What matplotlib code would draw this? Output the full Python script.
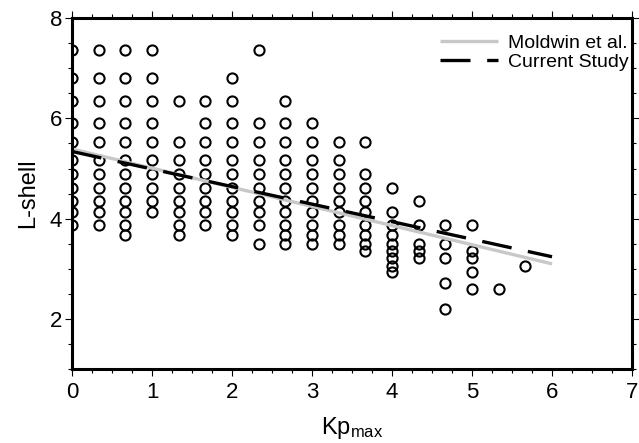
import numpy as np
import matplotlib
matplotlib.use('Agg')
import matplotlib.pyplot as plt
from matplotlib.ticker import MultipleLocator

plt.rcParams['font.family'] = ['Liberation Sans', 'DejaVu Sans']
plt.rcParams['mathtext.default'] = 'regular'

# Kp_max bins (thirds) and the plasmapause L-shells seen in each bin
kp_bins = [0, 1/3, 2/3, 1, 4/3, 5/3, 2, 7/3, 8/3, 3, 10/3, 11/3, 4, 13/3, 14/3, 5, 16/3, 17/3]
lshell_by_bin = [
    [7.36, 6.81, 6.34, 5.91, 5.53, 5.18, 4.89, 4.61, 4.35, 4.13, 3.87],
    [7.36, 6.81, 6.34, 5.91, 5.53, 5.18, 4.89, 4.61, 4.35, 4.13, 3.87],
    [7.36, 6.81, 6.34, 5.91, 5.53, 5.18, 4.89, 4.61, 4.35, 4.13, 3.87, 3.67],
    [7.36, 6.81, 6.34, 5.91, 5.53, 5.18, 4.89, 4.61, 4.35, 4.13],
    [6.34, 5.53, 5.18, 4.89, 4.61, 4.35, 4.13, 3.87, 3.67],
    [6.34, 5.91, 5.53, 5.18, 4.89, 4.61, 4.35, 4.13, 3.87],
    [6.81, 6.34, 5.91, 5.53, 5.18, 4.89, 4.61, 4.35, 4.13, 3.87, 3.67],
    [7.36, 5.91, 5.53, 5.18, 4.89, 4.61, 4.35, 4.13, 3.87, 3.50],
    [6.34, 5.91, 5.53, 5.18, 4.89, 4.61, 4.35, 4.13, 3.87, 3.67, 3.50],
    [5.91, 5.53, 5.18, 4.89, 4.61, 4.35, 4.13, 3.87, 3.67, 3.50],
    [5.53, 5.18, 4.89, 4.61, 4.35, 4.13, 3.87, 3.67, 3.50],
    [5.53, 4.89, 4.61, 4.35, 4.13, 3.87, 3.67, 3.50, 3.35],
    [4.61, 4.13, 3.87, 3.67, 3.50, 3.35, 3.21, 3.06, 2.94],
    [4.35, 3.87, 3.50, 3.35, 3.21],
    [3.87, 3.50, 3.21, 2.71, 2.19],
    [3.87, 3.35, 3.21, 2.94, 2.60],
    [2.60],
    [3.06],
]

# linear fits L = a + b * Kp_max
fit_kp = [0, 6]
moldwin_coef = (5.39, -0.382)
current_coef = (5.34, -0.35)

kp = np.concatenate([[k] * len(ls) for k, ls in zip(kp_bins, lshell_by_bin)])
lsh = np.concatenate(lshell_by_bin)

fig = plt.figure(figsize=(6.39, 4.43), dpi=100)
ax = fig.add_axes([0.1127, 0.167, 0.8764, 0.792])

ax.plot(kp, lsh, 'o', ms=7.3, mfc='none', mec='black', mew=1.5, zorder=2)

xf = np.array(fit_kp, dtype=float)
ax.plot(xf, moldwin_coef[0] + moldwin_coef[1] * xf, color='#c8c8c8', lw=2.4,
        solid_capstyle='butt', label='Moldwin et al.', zorder=3)
ax.plot(xf, current_coef[0] + current_coef[1] * xf, color='black', lw=2.4,
        dashes=(9, 5), dash_capstyle='butt', label='Current Study', zorder=4)

ax.set_xlim(0, 7)
ax.set_ylim(1, 8)
ax.xaxis.set_major_locator(MultipleLocator(1))
ax.xaxis.set_minor_locator(MultipleLocator(0.25))
ax.yaxis.set_major_locator(MultipleLocator(2))
ax.yaxis.set_minor_locator(MultipleLocator(0.5))
ax.tick_params(which='both', direction='out', top=True, right=True, width=0.8,
               labelsize=16)
ax.tick_params(axis='x', pad=4)
ax.tick_params(axis='y', pad=2)
ax.tick_params(which='major', length=5)
ax.tick_params(which='minor', length=3)
for sp in ax.spines.values():
    sp.set_linewidth(2.2)
    sp.set_zorder(5)

ax.set_xlabel(r'Kp$_{max}$', fontsize=17, labelpad=9)
ax.set_ylabel('L-shell', fontsize=17, labelpad=8)

ax.legend(loc='upper right', bbox_to_anchor=(0.994, 0.955), frameon=False,
          fontsize=14, handlelength=3.0, handletextpad=0.5, labelspacing=0.1,
          borderaxespad=0, borderpad=0)

fig.savefig('out.png', dpi=100)
